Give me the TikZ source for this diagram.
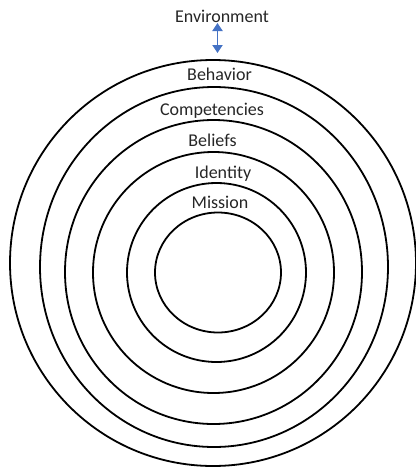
\documentclass[tikz,border=0pt]{standalone}
\usepackage{fontspec}
\setmainfont{Carlito}
\usetikzlibrary{arrows.meta}
\definecolor{txt}{HTML}{262626}
\definecolor{arr}{HTML}{4472C4}
\begin{document}
\begin{tikzpicture}[x=1pt,y=-1pt,
  ring/.style={draw=black,line width=1.8pt},
  lbl/.style={anchor=base,text=txt,font=\fontsize{18}{20}\selectfont,inner sep=0pt},
  dblarrow/.style={arr,line width=1.8pt,{Triangle[length=8pt,width=10pt]}-{Triangle[length=8pt,width=10pt]}}]
\useasboundingbox (0,0) rectangle (416,467);
\draw[ring] (218,272.5) ellipse [x radius=63,y radius=60];
\draw[ring] (216.5,272.5) ellipse [x radius=89.5,y radius=89.5];
\draw[ring] (213.5,272.5) ellipse [x radius=120.5,y radius=120.5];
\draw[ring] (213.5,272) ellipse [x radius=148.5,y radius=152];
\draw[ring] (214,267) ellipse [x radius=174,y radius=180];
\draw[ring] (213,263) ellipse [x radius=203,y radius=203];
\node[lbl] (env) at (222,22) {Environment};
\node[lbl] (beh) at (219.5,80) {Behavior};
\node[lbl] (comp) at (212,115) {Competencies};
\node[lbl] (bel) at (212.5,146) {Beliefs};
\node[lbl] (ide) at (223,178) {Identity};
\node[lbl] (mis) at (220,208) {Mission};
\coordinate (a1) at (217.5,23);
\coordinate (a2) at (217.5,53);
\draw[dblarrow] (a1) -- (a2);
\end{tikzpicture}
\end{document}
